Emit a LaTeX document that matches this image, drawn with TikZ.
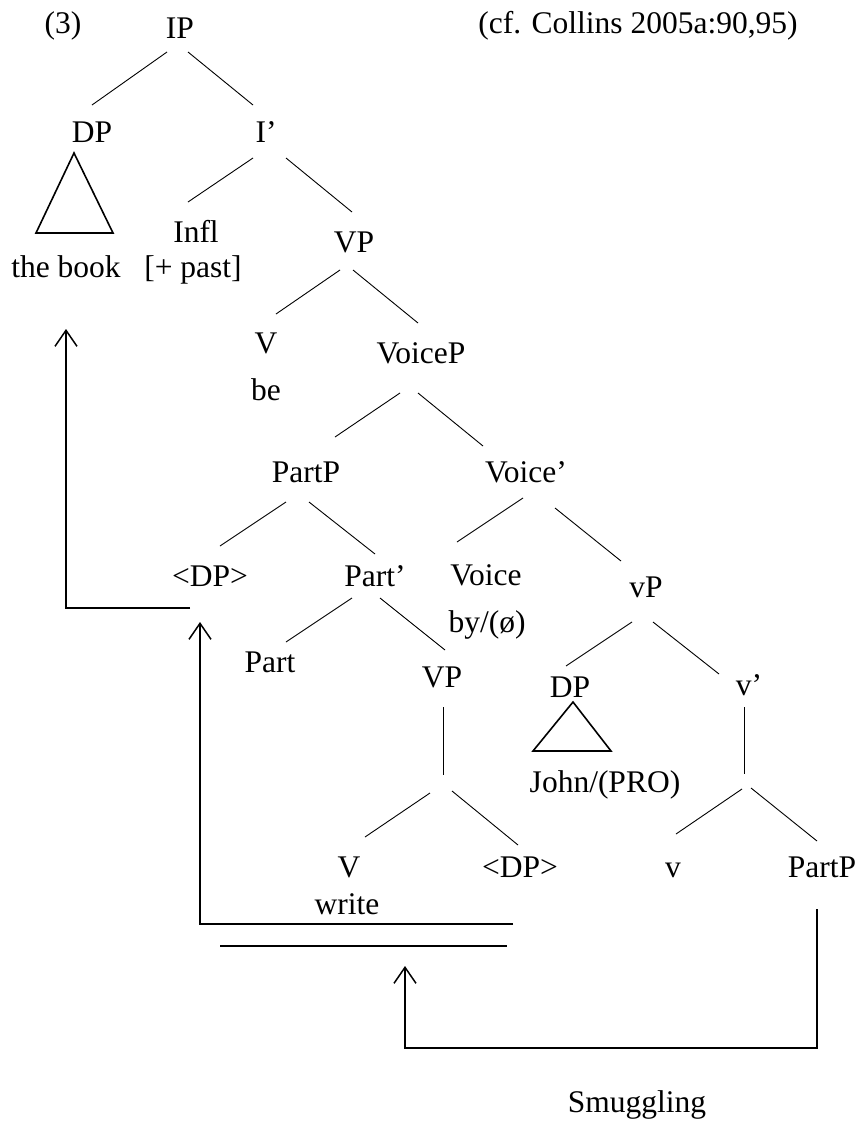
\documentclass[tikz,border=0pt]{standalone}
\usepackage{fontspec}
\setmainfont{Liberation Serif}
\usetikzlibrary{calc,arrows.meta}
\begin{document}
\begin{tikzpicture}[x=1pt,y=-1pt,
  lab/.style={anchor=base,inner sep=0pt,font=\fontsize{31.5}{36}\selectfont},
  edge/.style={line width=0.9pt},
  tri/.style={line width=1.6pt,line join=miter},
  mv/.style={line width=1.3pt},
  mvarr/.style={line width=1.3pt,-{Straight Barb[length=16pt,width=22pt,line width=1.5pt]}}]
\useasboundingbox (0,0) rectangle (859,1122);
% labels
\node[lab] (n3) at (63,33) {(3)};
\node[lab] (IP) at (180,38) {IP};
\node[lab] (cf) at (638,33) {(cf. Collins 2005a:90,95)};
\node[lab] (DP) at (92,142) {DP};
\node[lab] (Ib) at (266,142) {I’};
\node[lab] (Infl) at (196,242) {Infl};
\node[lab] (VP) at (354,252) {VP};
\node[lab] (book) at (66,277) {the book};
\node[lab] (past) at (193,277) {[+ past]};
\node[lab] (V) at (266,353) {V};
\node[lab] (be) at (266,400) {be};
\node[lab] (VoiceP) at (421,363) {VoiceP};
\node[lab] (PartP) at (306,482) {PartP};
\node[lab] (Voiceb) at (526,482) {Voice’};
\node[lab] (tDP) at (210,586) {<DP>};
\node[lab] (Partb) at (375,586) {Part’};
\node[lab] (Voice) at (486,585) {Voice};
\node[lab] (by) at (487,632) {by/(ø)};
\node[lab] (vP) at (646,597) {vP};
\node[lab] (Part) at (270,672) {Part};
\node[lab] (VP2) at (442,687) {VP};
\node[lab] (DP2) at (570,697) {DP};
\node[lab] (vb) at (749,695) {v’};
\node[lab] (John) at (605,792) {John/(PRO)};
\node[lab] (V2) at (349,877) {V};
\node[lab] (write) at (347,914) {write};
\node[lab] (tDP2) at (520,877) {<DP>};
\node[lab] (v) at (673,877) {v};
\node[lab] (PartP2) at (822,877) {PartP};
\node[lab] (Smug) at (637,1112) {Smuggling};
% junctions
\coordinate (j1) at (443,775);
\coordinate (j2) at (744,774);
% tree edges
\draw[edge] ($(IP.base)+(-13,14)$) -- ($(DP.base)+(0,-37)$);
\draw[edge] ($(IP.base)+(8,14)$) -- ($(Ib.base)+(-13,-37)$);
\draw[edge] ($(Ib.base)+(-13,16)$) -- ($(Infl.base)+(-8,-40)$);
\draw[edge] ($(Ib.base)+(20,16)$) -- ($(VP.base)+(-2,-40)$);
\draw[edge] ($(VP.base)+(-14,18)$) -- ($(V.base)+(10,-39)$);
\draw[edge] ($(VP.base)+(-1,18)$) -- ($(VoiceP.base)+(-3,-40)$);
\draw[edge] ($(VoiceP.base)+(-21,30)$) -- ($(PartP.base)+(29,-45)$);
\draw[edge] ($(VoiceP.base)+(-3,30)$) -- ($(Voiceb.base)+(-43,-36)$);
\draw[edge] ($(PartP.base)+(-20,20)$) -- ($(tDP.base)+(10,-40)$);
\draw[edge] ($(PartP.base)+(3,20)$) -- ($(Partb.base)+(0,-32)$);
\draw[edge] ($(Voiceb.base)+(-3,16)$) -- ($(Voice.base)+(-29,-43)$);
\draw[edge] ($(Voiceb.base)+(29,26)$) -- ($(vP.base)+(-25,-36)$);
\draw[edge] ($(Partb.base)+(-23,12)$) -- ($(Part.base)+(16,-30)$);
\draw[edge] ($(Partb.base)+(5,12)$) -- ($(VP2.base)+(3,-37)$);
\draw[edge] ($(vP.base)+(-14,25)$) -- ($(DP2.base)+(-4,-31)$);
\draw[edge] ($(vP.base)+(7,25)$) -- ($(vb.base)+(-30,-21)$);
\draw[edge] ($(VP2.base)+(1,20)$) -- (j1);
\draw[edge] ($(vb.base)+(-5,12)$) -- (j2);
\draw[edge] ($(j1)+(-13,18)$) -- ($(V2.base)+(16,-40)$);
\draw[edge] ($(j1)+(9,16)$) -- ($(tDP2.base)+(-2,-32)$);
\draw[edge] ($(j2)+(-2,15)$) -- ($(v.base)+(3,-43)$);
\draw[edge] ($(j2)+(7,14)$) -- ($(PartP2.base)+(-5,-36)$);
% triangles
\draw[tri] ($(DP.base)+(-18,11)$) -- ($(DP.base)+(-56,91)$) -- ($(DP.base)+(21,91)$) -- cycle;
\draw[tri] ($(DP2.base)+(3,5)$) -- ($(DP2.base)+(-37,54)$) -- ($(DP2.base)+(41,54)$) -- cycle;
% movement arrows
\coordinate (a1s) at (190,608);
\coordinate (a1c) at (66,608);
\coordinate (a1e) at (66,329);
\draw[mvarr] (a1s) -- (a1c) -- (a1e);
\coordinate (a2s) at (513,924);
\coordinate (a2c) at (200,924);
\coordinate (a2e) at (200,622);
\draw[mvarr] (a2s) -- (a2c) -- (a2e);
\coordinate (ls) at (220,946);
\coordinate (le) at (507,946);
\draw[mv] (ls) -- (le);
\coordinate (a3s) at (817,909);
\coordinate (a3c1) at (817,1048);
\coordinate (a3c2) at (405,1048);
\coordinate (a3e) at (405,966);
\draw[mvarr] (a3s) -- (a3c1) -- (a3c2) -- (a3e);
\end{tikzpicture}
\end{document}
